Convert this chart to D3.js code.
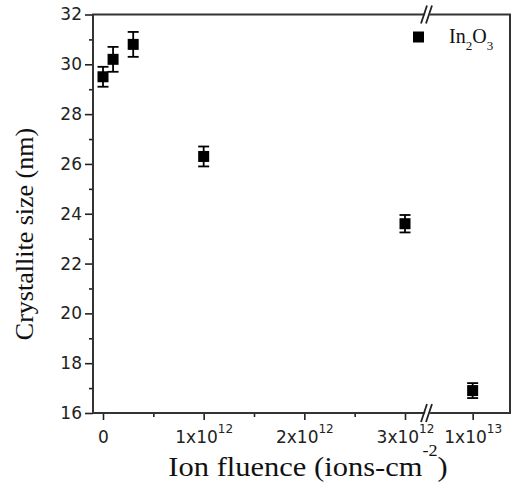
<!DOCTYPE html>
<html>
<head>
<meta charset="utf-8">
<script src="https://cdn.jsdelivr.net/npm/d3@7"></script>
<style>
  body { margin: 0; background: #fff; }
  svg { display: block; }
</style>
</head>
<body>
<svg></svg>
<script>
// data
let fluence = [0, 1e11, 3e11, 1e12, 3e12, 1e13]
let crystSize = [29.5, 30.2, 30.8, 26.3, 23.6, 16.9]
let sizeErr = [0.4, 0.5, 0.5, 0.4, 0.35, 0.3]

let yTicks = [16, 18, 20, 22, 24, 26, 28, 30, 32]
let yMinor = [17, 19, 21, 23, 25, 27, 29, 31]
let xTicksLeft = [0, 1e12, 2e12, 3e12]
let xTickLabelsLeft = [["0", ""], ["1x10", "12"], ["2x10", "12"], ["3x10", "12"]]
let xMinorLeft = [5e11, 1.5e12, 2.5e12]
let xTicksRight = [1e13]
let xTickLabelsRight = [["1x10", "13"]]

let width = 511
let height = 483
let plotL = 93, plotR = 510, plotT = 14.5, plotB = 413
let breakX = 427

let svg = d3.select('svg').attr('width', width).attr('height', height)

// broken x axis: two linear pieces
let xL = d3.scaleLinear().domain([0, 3e12]).range([103, 405])
let xR = d3.scaleLinear().domain([9.45e12, 1.045e13]).range([breakX, plotR])
let x = (v) => v > 5e12 ? xR(v) : xL(v)

let y = d3.scaleLinear().domain([16, 32]).range([plotB, plotT])

let axisColor = '#222'
let tickFont = '"DejaVu Sans", sans-serif'
let serif = '"Liberation Serif", "Times New Roman", serif'

// y axis
let gy = svg.append('g').attr('transform', `translate(${plotL},0)`)
   .call(d3.axisLeft(y).tickValues(yTicks).tickSize(8).tickPadding(3))
gy.select('.domain').remove()
gy.selectAll('line').attr('stroke', axisColor).attr('stroke-width', 1.6)
gy.selectAll('text').attr('font-family', tickFont).attr('font-size', 17).attr('fill', axisColor)

let gyMinor = svg.append('g').attr('transform', `translate(${plotL},0)`)
   .call(d3.axisLeft(y).tickValues(yMinor).tickSize(4).tickFormat(''))
gyMinor.select('.domain').remove()
gyMinor.selectAll('line').attr('stroke', axisColor).attr('stroke-width', 1.6)

// x axis pieces
let labelTicks = (g, labels) => {
  g.select('.domain').remove()
  g.selectAll('line').attr('stroke', axisColor).attr('stroke-width', 1.6)
  g.selectAll('text').each(function(d, i) {
    let t = d3.select(this).text('')
       .attr('font-family', tickFont).attr('font-size', 17).attr('fill', axisColor)
       .attr('dy', '1.05em')
    t.append('tspan').text(labels[i][0])
    if (labels[i][1]) {
      t.append('tspan').attr('font-size', 12).attr('dy', '-0.8em').text(labels[i][1])
    }
  })
}

let gxL = svg.append('g').attr('transform', `translate(0,${plotB})`)
   .call(d3.axisBottom(xL).tickValues(xTicksLeft).tickSize(7).tickPadding(5))
labelTicks(gxL, xTickLabelsLeft)
let gxLMinor = svg.append('g').attr('transform', `translate(0,${plotB})`)
   .call(d3.axisBottom(xL).tickValues(xMinorLeft).tickSize(4).tickFormat(''))
gxLMinor.select('.domain').remove()
gxLMinor.selectAll('line').attr('stroke', axisColor).attr('stroke-width', 1.6)

let gxR = svg.append('g').attr('transform', `translate(0,${plotB})`)
   .call(d3.axisBottom(xR).tickValues(xTicksRight).tickSize(7).tickPadding(5))
labelTicks(gxR, xTickLabelsRight)

// frame
svg.append('rect')
   .attr('x', plotL).attr('y', plotT)
   .attr('width', plotR - plotL).attr('height', plotB - plotT)
   .attr('fill', 'none').attr('stroke', '#333').attr('stroke-width', 2)

// break marks on top and bottom axis
;[plotT, plotB].forEach(yy => {
  let g = svg.append('g').attr('transform', `translate(${breakX},${yy})`)
  g.append('path').attr('d', 'M-5,9 L1,-9 L6,-9 L0,9 Z').attr('fill', '#fff')
  g.append('path').attr('d', 'M-6,9 L0,-9 M-1,9 L5,-9')
   .attr('stroke', '#222').attr('stroke-width', 1.8).attr('fill', 'none')
})

// data
let pts = fluence.map((f, i) => ({f: f, s: crystSize[i], e: sizeErr[i]}))
let cap = 5.5
let eb = svg.append('g').attr('stroke', '#000').attr('stroke-width', 1.8)
pts.forEach(d => {
  let cx = x(d.f)
  eb.append('line').attr('x1', cx).attr('x2', cx).attr('y1', y(d.s + d.e)).attr('y2', y(d.s - d.e))
  eb.append('line').attr('x1', cx - cap).attr('x2', cx + cap).attr('y1', y(d.s + d.e)).attr('y2', y(d.s + d.e))
  eb.append('line').attr('x1', cx - cap).attr('x2', cx + cap).attr('y1', y(d.s - d.e)).attr('y2', y(d.s - d.e))
})
let sq = 11
svg.append('g').selectAll('rect').data(pts).enter().append('rect')
   .attr('x', d => x(d.f) - sq / 2).attr('y', d => y(d.s) - sq / 2)
   .attr('width', sq).attr('height', sq).attr('fill', '#000')

// legend
svg.append('rect').attr('x', 413).attr('y', 31.5).attr('width', 11).attr('height', 11).attr('fill', '#000')
let lt = svg.append('text').attr('x', 449).attr('y', 43)
   .attr('font-family', serif).attr('font-size', 20).attr('fill', '#111')
lt.append('tspan').text('In')
lt.append('tspan').attr('font-size', 13).attr('dy', 7).text('2')
lt.append('tspan').attr('dy', -7).text('O')
lt.append('tspan').attr('font-size', 13).attr('dy', 7).text('3')

// axis titles
let xt = svg.append('text').attr('transform', 'translate(308,476) scale(1.13,1)')
   .attr('text-anchor', 'middle')
   .attr('font-family', serif).attr('font-size', 27).attr('fill', '#111')
xt.append('tspan').text('Ion fluence (ions-cm')
xt.append('tspan').attr('font-size', 16).attr('dy', -20).text('-2')
xt.append('tspan').attr('dy', 20).text(')')

svg.append('text')
   .attr('transform', 'translate(33,234) rotate(-90)')
   .attr('text-anchor', 'middle')
   .attr('font-family', serif).attr('font-size', 26).attr('fill', '#111')
   .text('Crystallite size (nm)')
</script>
</body>
</html>
